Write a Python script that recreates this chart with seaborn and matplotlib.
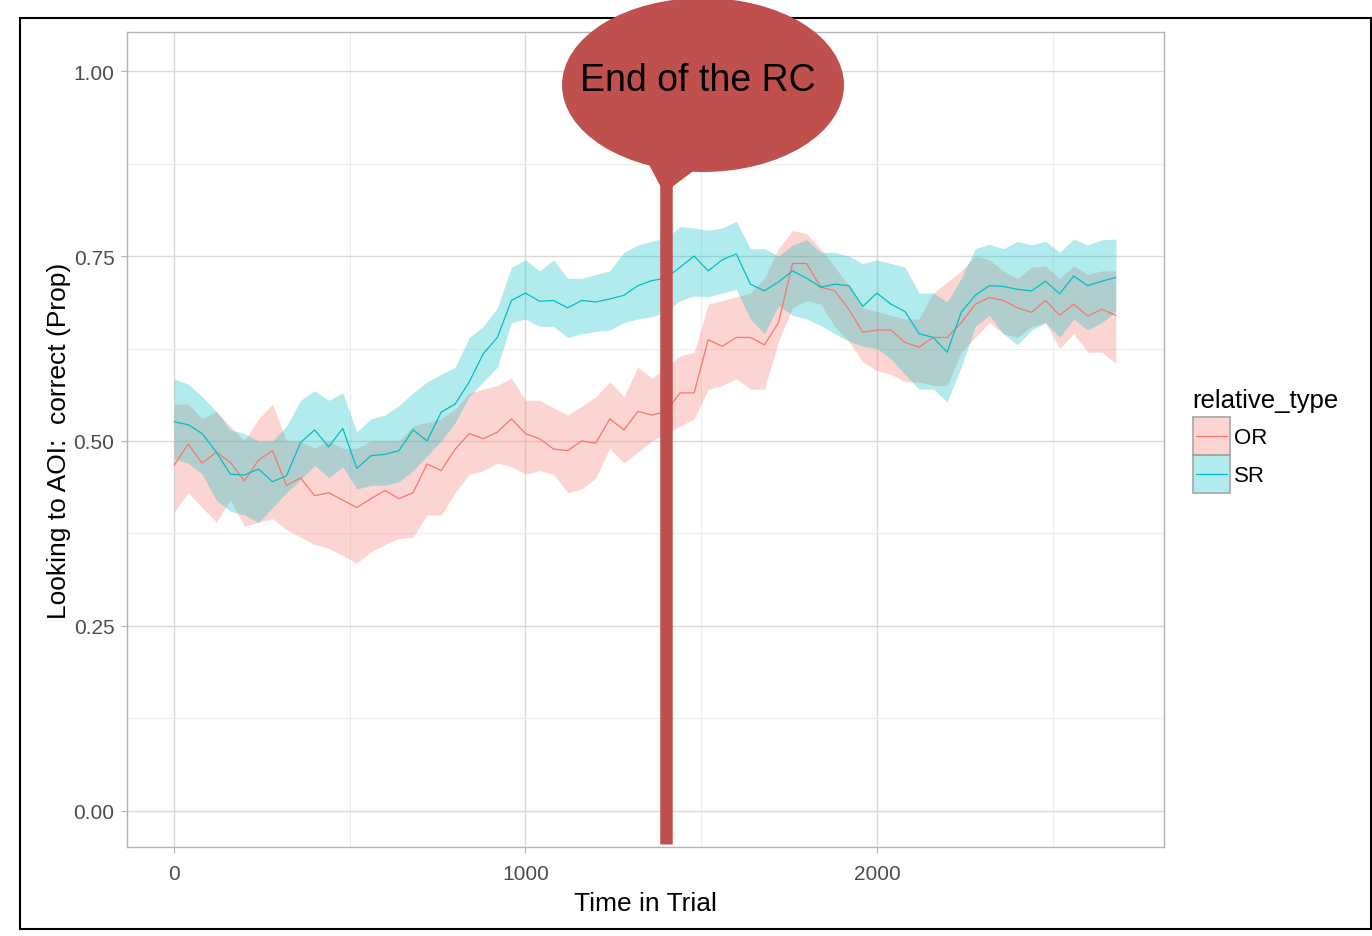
import numpy as np
import pandas as pd
import matplotlib
matplotlib.use("Agg")
import matplotlib.pyplot as plt
import seaborn as sns
from matplotlib.patches import Ellipse, Polygon, Rectangle
from matplotlib.lines import Line2D
from matplotlib.colors import to_rgba

# ---------------- data ----------------
time = list(range(0, 2681, 40))

or_mean = [.467, .496, .470, .485, .471, .446, .474, .487, .440, .450,
           .426, .430, .420, .410, .422, .433, .422, .430, .469, .460,
           .489, .510, .503, .512, .530, .510, .503, .489, .487, .500,
           .497, .530, .515, .540, .535, .540, .565, .565, .637, .628,
           .640, .640, .630, .660, .740, .740, .708, .703, .678, .647,
           .650, .650, .633, .627, .640, .640, .660, .685, .694, .690,
           .680, .674, .690, .670, .685, .669, .678, .670]
or_lo = [.404, .430, .410, .390, .420, .385, .390, .395, .380, .370,
         .360, .355, .345, .335, .350, .360, .368, .370, .400, .400,
         .430, .455, .460, .470, .465, .455, .460, .455, .430, .435,
         .450, .490, .470, .485, .500, .510, .520, .530, .570, .575,
         .584, .570, .570, .635, .680, .690, .685, .655, .635, .607,
         .595, .590, .580, .580, .575, .575, .620, .640, .660, .645,
         .640, .655, .660, .625, .645, .620, .620, .605]
or_hi = [.550, .550, .530, .540, .520, .500, .530, .550, .500, .500,
         .490, .500, .490, .490, .500, .500, .500, .520, .525, .530,
         .543, .565, .570, .575, .585, .555, .555, .545, .535, .547,
         .560, .580, .560, .600, .585, .600, .615, .620, .685, .690,
         .695, .700, .720, .760, .785, .780, .760, .735, .710, .680,
         .675, .670, .665, .665, .700, .715, .730, .750, .745, .730,
         .720, .735, .737, .720, .737, .725, .730, .730]

sr_mean = [.526, .522, .510, .485, .455, .454, .462, .445, .453, .498,
           .515, .492, .517, .463, .480, .482, .487, .515, .500, .539,
           .550, .580, .618, .640, .690, .700, .689, .690, .680, .690,
           .688, .692, .697, .710, .717, .720, .735, .750, .730, .745,
           .753, .712, .703, .715, .730, .720, .708, .712, .710, .682,
           .700, .685, .675, .645, .640, .620, .674, .697, .710, .709,
           .705, .703, .716, .699, .723, .710, .716, .721]
sr_lo = [.476, .470, .455, .420, .405, .400, .390, .410, .430, .448,
         .467, .450, .465, .435, .440, .440, .445, .460, .480, .500,
         .525, .560, .580, .600, .660, .665, .655, .655, .640, .645,
         .648, .650, .660, .665, .668, .675, .690, .696, .695, .700,
         .705, .665, .645, .683, .670, .665, .656, .645, .635, .628,
         .625, .611, .590, .570, .570, .553, .600, .655, .670, .645,
         .630, .650, .660, .640, .665, .650, .660, .675]
sr_hi = [.584, .577, .560, .540, .515, .510, .500, .500, .520, .555,
         .568, .555, .565, .512, .530, .535, .548, .565, .580, .590,
         .600, .640, .655, .680, .735, .745, .730, .745, .720, .720,
         .725, .730, .755, .765, .770, .775, .790, .788, .785, .788,
         .797, .760, .760, .750, .765, .772, .755, .755, .750, .740,
         .745, .740, .735, .700, .700, .688, .720, .760, .766, .760,
         .770, .765, .770, .755, .773, .765, .772, .773]

groups = ["OR", "SR"]
colors = {"OR": "#F8766D", "SR": "#00BFC4"}
rc_end = 1400
y_ticks = [0.0, 0.25, 0.5, 0.75, 1.0]
x_ticks = [0, 1000, 2000]

df = pd.DataFrame({
    "time": time * 2,
    "prop": or_mean + sr_mean,
    "lo": or_lo + sr_lo,
    "hi": or_hi + sr_hi,
    "relative_type": ["OR"] * len(time) + ["SR"] * len(time),
})

# ---------------- figure ----------------
sns.set_theme(style="white")
plt.rcParams["font.family"] = ["Liberation Sans", "DejaVu Sans"]

W, H = 1372, 937
fig = plt.figure(figsize=(W / 100, H / 100), dpi=100)
ax = fig.add_axes([127 / W, (H - 848) / H, (1164 - 127) / W, (848 - 33) / H])

for g in groups:
    sub = df[df.relative_type == g]
    ax.fill_between(sub["time"], sub["lo"], sub["hi"], color=colors[g],
                    alpha=0.3, linewidth=0, zorder=2)

sns.lineplot(data=df, x="time", y="prop", hue="relative_type",
             palette=colors, linewidth=0.9, errorbar=None, legend=False,
             ax=ax, zorder=3)

ax.set_xlim(-134, 2817)
ax.set_ylim(-0.049, 1.053)
ax.set_xticks(x_ticks)
ax.set_xticks([500, 1500, 2500], minor=True)
ax.set_yticks(y_ticks)
ax.set_yticks([0.125, 0.375, 0.625, 0.875], minor=True)
ax.set_yticklabels([f"{v:.2f}" for v in y_ticks])
ax.set_xticklabels([str(v) for v in x_ticks])
ax.grid(which="major", color="#DADADA", linewidth=1.0)
ax.grid(which="minor", color="#EDEDED", linewidth=0.8)
ax.set_axisbelow(True)
for s in ax.spines.values():
    s.set_color("#B3B3B3")
    s.set_linewidth(1.0)
ax.tick_params(which="major", length=4, width=0.8, color="#B3B3B3",
               labelcolor="#4D4D4D", labelsize=15, pad=5,
               bottom=True, left=True)
ax.tick_params(axis="x", which="major", pad=8)
ax.tick_params(which="minor", length=0)
ax.set_xlabel("Time in Trial", fontsize=19, color="black", labelpad=6)
ax.set_ylabel("Looking to AOI:  correct (Prop)", fontsize=19,
              color="black", labelpad=2)


def fx(px):
    return px / W


def fy(py):
    return (H - py) / H


# legend (drawn as key boxes in figure coordinates)
fig.text(fx(1192), fy(401), "relative_type", ha="left", va="center",
         fontsize=18.5, color="black")
for i, g in enumerate(groups):
    top = 418 + 38 * i
    fig.add_artist(Rectangle((fx(1193), fy(top + 38)), 37 / W, 38 / H,
                             transform=fig.transFigure,
                             facecolor=to_rgba(colors[g], 0.3),
                             edgecolor="#A6A6A6", linewidth=1.2))
    fig.add_artist(Line2D([fx(1196), fx(1227)], [fy(top + 19)] * 2,
                          transform=fig.transFigure, color=colors[g], lw=0.9))
    fig.text(fx(1234), fy(top + 21), g, ha="left", va="center",
             fontsize=16, color="black")

# vertical "end of RC" bar
y_bar_top = (812 - 175) / 740
ax.plot([rc_end, rc_end], [-0.045, y_bar_top], color="#C0504D", lw=9,
        solid_capstyle="butt", clip_on=False, zorder=10)

# speech bubble
tail = Polygon([(fx(646), fy(160)), (fx(704), fy(164)), (fx(664), fy(194))],
               closed=True, transform=fig.transFigure, facecolor="#C0504D",
               edgecolor="none", zorder=20)
fig.add_artist(tail)
bub = Ellipse((fx(703), fy(86)), 282 / W, 174 / H, transform=fig.transFigure,
              facecolor="#C0504D", edgecolor="none", zorder=21)
fig.add_artist(bub)
fig.text(fx(698), fy(81), "End of the RC", ha="center", va="center",
         fontsize=27, color="black", zorder=22)

# outer frame
frame = Rectangle((fx(20), fy(930)), (1371 - 20) / W, (930 - 19) / H,
                  transform=fig.transFigure, fill=False, edgecolor="black",
                  linewidth=1.5, zorder=5)
fig.add_artist(frame)

fig.savefig("out.png", dpi=100)
